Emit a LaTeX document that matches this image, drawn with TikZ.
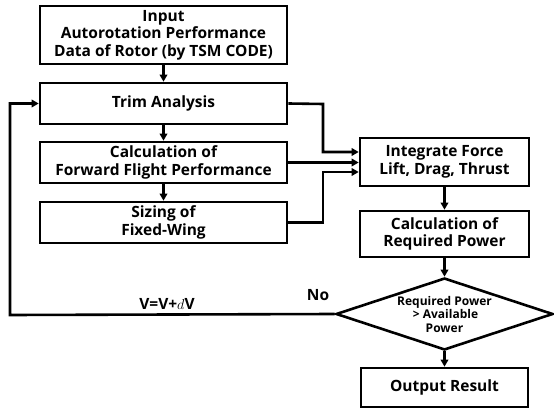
\documentclass[tikz,border=0pt]{standalone}
\usepackage{fontspec}
\setmainfont{Open Sans}
\usetikzlibrary{arrows.meta,shapes.geometric}
\tikzset{
  every picture/.style={x=1pt,y=-1pt},
  box/.style={draw,line width=2.6pt,rectangle,align=center,font=\bfseries\fontsize{15.5}{17.5}\selectfont,inner sep=0pt},
  decision/.style={draw,line width=2.6pt,diamond,aspect=3.2,align=center,inner sep=0pt,font=\bfseries\fontsize{12}{13.5}\selectfont},
  flow/.style={line width=2.6pt,-{Triangle[length=7pt,width=7.5pt]}},
  lbl/.style={font=\bfseries\fontsize{15.5}{17.5}\selectfont,inner sep=0pt}
}
\begin{document}
\begin{tikzpicture}
\useasboundingbox (0,0) rectangle (554,409);
% left column
\node[box,minimum width=247pt,minimum height=58pt] (input) at (163.5,35) {Input\\Autorotation Performance\\Data of Rotor (by TSM CODE)};
\node[box,minimum width=247pt,minimum height=41pt] (trim) at (163.5,103.5) {Trim Analysis};
\node[box,minimum width=247pt,minimum height=41pt] (fwd) at (163.5,162.5) {Calculation of\\Forward Flight Performance};
\node[box,minimum width=247pt,minimum height=41pt] (size) at (163.5,222.5) {Sizing of\\Fixed-Wing};
% right column
\node[box,minimum width=169pt,minimum height=48pt] (integ) at (444.5,162) {Integrate Force\\Lift, Drag, Thrust};
\node[box,minimum width=169pt,minimum height=46pt] (reqp) at (444.5,234) {Calculation of\\Required Power};
\node[decision,minimum width=217pt,minimum height=72pt] (check) at (444.5,314) {Required Power\\\,> Available\\Power};
\node[box,minimum width=167pt,minimum height=39pt] (out) at (444.5,387.5) {Output Result};
% bends and labels
\coordinate (j1) at (323,104);
\coordinate (j3) at (323,222.5);
\coordinate (back) at (10,315);
\node[lbl] (upd) at (167,304) {V=V+$d$V};
\node[lbl] (no) at (318,295) {No};
% connectors
\draw[flow] (input) -- (trim);
\draw[flow] (trim) -- (fwd);
\draw[flow] (fwd) -- (size);
\draw[flow] (trim.east) -- (j1) |- ([yshift=10pt]integ.west);
\draw[flow] (fwd.east) -- (fwd.east -| integ.west);
\draw[flow] (size.east) -- (j3) |- ([yshift=-10pt]integ.west);
\draw[flow] (integ) -- (reqp);
\draw[flow] (reqp) -- (check);
\draw[flow] (check) -- (out);
\draw[flow] (check.west) -- (back) |- (trim.west);
\end{tikzpicture}
\end{document}
